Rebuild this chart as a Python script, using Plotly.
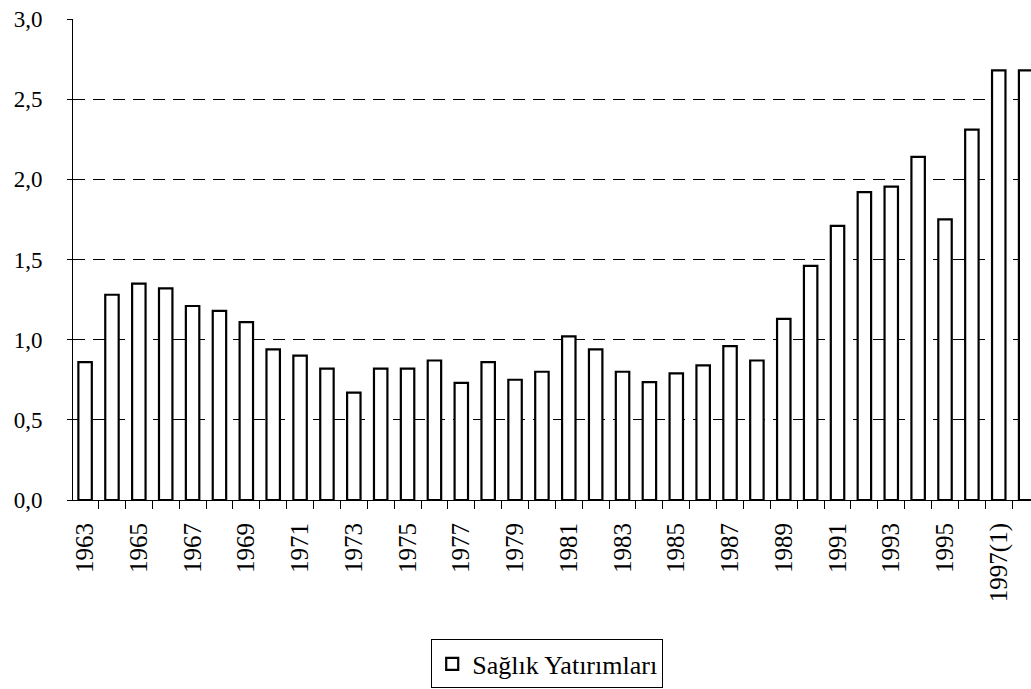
import plotly.graph_objects as go

# yearly values (Sağlık Yatırımları)
years = [str(y) for y in range(1963, 1999)]
values = [0.86, 1.28, 1.35, 1.32, 1.21, 1.18, 1.11, 0.94, 0.90, 0.82,
          0.67, 0.82, 0.82, 0.87, 0.73, 0.86, 0.75, 0.80, 1.02, 0.94,
          0.80, 0.735, 0.79, 0.84, 0.96, 0.87, 1.13, 1.46, 1.71, 1.92,
          1.955, 2.14, 1.75, 2.31, 2.68, 2.68]
# only every other year is labelled
tick_labels = ["1963", "", "1965", "", "1967", "", "1969", "", "1971", "",
               "1973", "", "1975", "", "1977", "", "1979", "", "1981", "",
               "1983", "", "1985", "", "1987", "", "1989", "", "1991", "",
               "1993", "", "1995", "", "1997(1)", ""]

fig = go.Figure()
fig.add_trace(go.Bar(
    x=years,
    y=values,
    name="Sağlık Yatırımları",
    width=0.5,
    marker=dict(color="white", line=dict(color="black", width=2.2)),
))

fig.update_layout(
    width=1031,
    height=689,
    margin=dict(l=73, r=0, t=19, b=184),
    plot_bgcolor="white",
    paper_bgcolor="white",
    separators=",.",
    font=dict(family="Liberation Serif, Times New Roman, serif", size=23, color="black"),
    showlegend=True,
    legend=dict(
        orientation="h",
        x=0.495, xanchor="center",
        y=-0.29, yanchor="top",
        bordercolor="black", borderwidth=1,
        font=dict(size=26),
    ),
)

fig.update_xaxes(
    type="category",
    tickvals=years,
    ticktext=tick_labels,
    tickangle=-90,
    tickson="boundaries",
    ticks="outside",
    ticklen=8,
    tickcolor="black",
    tickfont=dict(size=25),
    ticklabelstandoff=12,
    showline=True,
    linecolor="black",
    linewidth=1,
    showgrid=False,
    automargin=False,
    range=[-0.45, 35.2],
)

fig.update_yaxes(
    range=[0, 3],
    dtick=0.5,
    tickformat=".1f",
    ticks="outside",
    ticklen=5,
    tickcolor="black",
    ticklabelstandoff=20,
    showline=True,
    linecolor="black",
    linewidth=1,
    showgrid=True,
    gridcolor="black",
    gridwidth=1,
    griddash="12px,8px",
    zeroline=False,
    automargin=False,
)

# drop the default page margin so the figure sits at the window's corner
fig.write_html("out.html",
               config={"displayModeBar": False},
               post_script="document.body.style.margin='0';document.body.style.overflow='hidden';")
